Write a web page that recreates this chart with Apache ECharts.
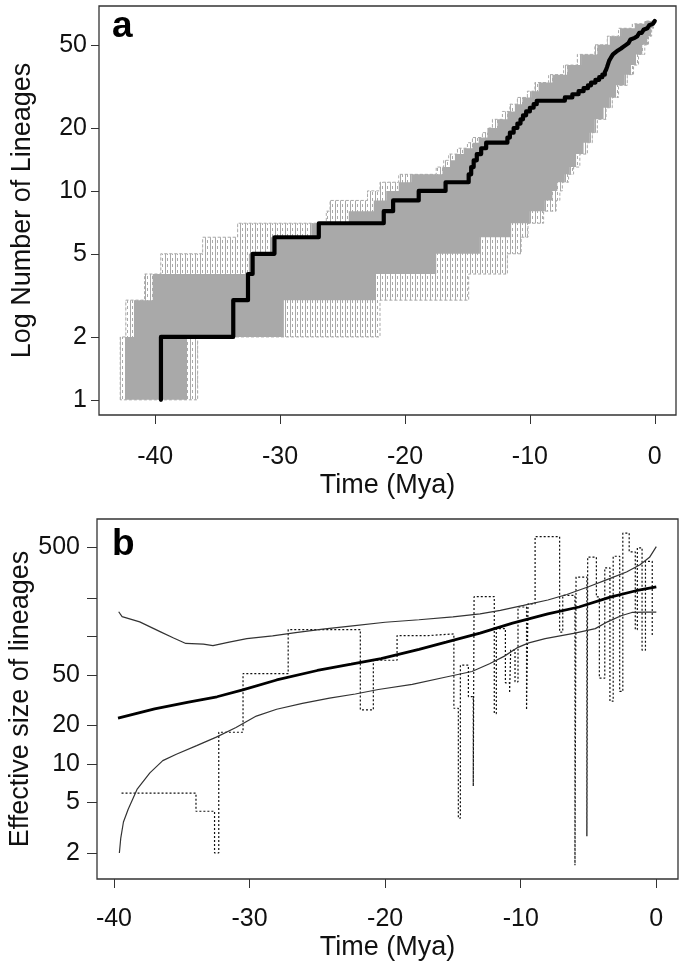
<!DOCTYPE html>
<html><head><meta charset="utf-8">
<script src="https://cdn.jsdelivr.net/npm/echarts@6/dist/echarts.min.js"></script>
<style>html,body{margin:0;padding:0;background:#fff}#c{width:685px;height:968px}</style>
</head><body><div id="c"></div>
<script>
// ---------- Panel a: lineages through time ----------
const ltaXTicks = [-40, -30, -20, -10, 0];
const ltaYTicks = [1, 2, 5, 10, 20, 50];

// observed LTT: time of each branching event and lineage count after it
const obsT = [-39.54, -39.54, -33.75, -32.57, -32.2, -30.45, -26.9, -21.7, -20.95, -18.9,
  -16.75, -14.9, -14.7, -14.5, -14.25, -13.9, -13.5, -11.8, -11.6, -11.3,
  -11.0, -10.75, -10.55, -10.3, -10.0, -9.7, -9.45, -7.2, -6.6, -6.1,
  -5.7, -5.35, -5.1, -4.75, -4.45, -4.2, -4.0, -3.9, -3.83, -3.77,
  -3.71, -3.65, -3.55, -3.45, -3.35, -3.25, -3.15, -2.95, -2.7, -2.5,
  -2.3, -2.1, -1.95, -1.8, -1.6, -1.4, -1.25, -1.05, -0.9, -0.75,
  -0.6, -0.45, -0.3, -0.15, 0];
const obsN = [1, 2, 3, 4, 5, 6, 7, 8, 9, 10,
  11, 12, 13, 14, 15, 16, 17, 18, 19, 20,
  21, 22, 23, 24, 25, 26, 27, 28, 29, 30,
  31, 32, 33, 34, 35, 36, 37, 38, 39, 40,
  41, 42, 43, 44, 45, 46, 47, 48, 49, 50,
  51, 52, 53, 54, 55, 56, 57, 58, 59, 60,
  61, 62, 63, 64, 65];

// simulated-tree envelope (outer, incl. sparse dashed lines): earliest / latest time per lineage level
const envTopN = [1, 2, 3, 4, 5, 6, 7, 8, 9, 10, 11, 12, 13, 14, 15, 16, 17, 18, 19, 20, 22, 24, 26, 28, 30, 33, 36, 40, 45, 50, 55, 60, 63];
const envTopT = [-42.8, -42.35, -40.85, -39.55, -36.2, -33.4, -26.3, -26.0, -23.0, -22.0, -20.5, -17.5, -16.9, -16.5, -15.8, -15.0, -14.6, -13.8, -13.3, -13.0, -12.2, -11.6, -11.0, -10.2, -9.6, -8.5, -7.3, -6.2, -4.8, -3.8, -2.9, -1.8, -0.8];
const envBotN = [1, 2, 3, 4, 5, 6, 7, 8, 9, 10, 11, 12, 13, 15, 17, 19, 22, 25, 28, 32, 36, 40, 45, 50, 55, 60];
const envBotT = [-36.6, -22.0, -14.9, -11.8, -10.7, -10.15, -8.9, -7.9, -7.6, -7.4, -6.9, -6.5, -6.0, -5.4, -5.0, -4.6, -3.9, -3.4, -2.9, -2.2, -1.7, -1.3, -0.8, -0.5, -0.25, -0.1];
// dense core of the simulated trees
const coreTopN = [1, 2, 3, 4, 5, 6, 7, 8, 9, 10, 11, 12, 13, 14, 15, 16, 17, 18, 20, 22, 24, 26, 28, 30, 33, 36, 40, 45, 50, 55, 60, 63];
const coreTopT = [-42.4, -41.7, -40.2, -32.5, -30.8, -27.5, -24.5, -22.5, -21.5, -20.5, -19.5, -17.0, -16.4, -16.0, -15.3, -14.6, -14.1, -13.4, -12.6, -11.8, -11.2, -10.6, -9.9, -9.3, -8.2, -7.0, -5.9, -4.6, -3.6, -2.7, -1.6, -0.7];
const coreBotN = [1, 2, 3, 4, 5, 6, 7, 8, 9, 10, 11, 12, 13, 15, 17, 19, 22, 25, 28, 32, 36, 40, 45, 50, 55, 60];
const coreBotT = [-37.45, -29.7, -22.4, -17.5, -14.0, -11.5, -10.0, -8.8, -8.2, -7.8, -7.2, -6.8, -6.3, -5.7, -5.2, -4.8, -4.1, -3.6, -3.1, -2.4, -1.9, -1.5, -1.0, -0.6, -0.3, -0.15];
const ltaTopN = 65;

// ---------- Panel b: effective size of lineages ----------
const nebXTicks = [-40, -30, -20, -10, 0];
const nebYTicks = [2, 5, 10, 20, 50, 100, 200, 500];
const nebYLabels = [2, 5, 10, 20, 50, 500];

const meanT = [-39.7, -37.0, -34.5, -32.4, -30.5, -28.0, -25.0, -22.5, -20.3, -17.5, -15.5, -13.0, -10.6, -8.0, -5.7, -3.4, -1.5, 0];
const meanV = [22.8, 27, 30.5, 33.6, 38, 45.5, 54, 60.5, 67, 79, 90, 106, 127, 150, 170, 203, 228, 245];

const upperT = [-39.65, -39.4, -38.1, -36.6, -35.6, -34.7, -33.4, -32.7, -31.5, -30.2, -28.3, -26.6, -24.6, -22.4, -20.0, -17.5, -15.0, -13.0, -11.5, -9.8, -8.0, -6.6, -5.0, -3.4, -2.2, -1.2, -0.5, 0];
const upperV = [156, 143, 130, 109, 97, 88, 87, 84.5, 90, 96, 101, 107, 114, 121, 129, 135, 142, 150, 160, 175, 193, 213, 245, 285, 320, 365, 417, 506];

const lowerT = [-39.6, -39.5, -39.3, -38.95, -38.3, -37.35, -36.4, -35.4, -33.9, -32.45, -31.0, -29.5, -28.0, -26.1, -24.1, -22.2, -20.5, -18.0, -15.5, -13.6, -12.3, -11.2, -10.2, -9.4, -8.2, -6.0, -4.5, -3.6, -2.6, -1.8, -0.8, 0];
const lowerV = [2.0, 2.6, 3.5, 4.4, 6.3, 8.5, 10.6, 11.9, 13.9, 16.2, 19.3, 23.7, 26.8, 29.8, 32.8, 35.3, 38.3, 42, 48, 53, 61, 70, 82, 89, 96, 106, 115, 130, 145, 154, 155, 155];

// skyline: start time of each interval and its value
const skyT = [-39.44, -33.95, -32.58, -32.27, -30.48, -27.15, -21.83, -20.87, -19.12, -16.8,
  -14.93, -14.6, -14.45, -13.86, -13.5, -13.44, -11.95, -11.8, -11.13, -10.82,
  -10.74, -10.42, -10.2, -9.57, -9.46, -8.94, -7.13, -6.9, -6.0, -5.92,
  -5.12, -5.06, -4.42, -4.2, -3.8, -3.42, -3.18, -2.7, -2.47, -2.0,
  -1.55, -1.4, -1.05, -0.8, -0.3];
const skyV = [5.9, 4.25, 2.0, 17.7, 51, 113, 26.5, 65, 101.5, 104.5,
  27.3, 3.75, 59.5, 33.7, 6.7, 205, 24.8, 115, 43.2, 36,
  78, 44, 170, 26.5, 180, 605, 108, 210, 1.6, 292,
  2.7, 418, 204, 47, 345, 31, 425, 37, 645, 460,
  113, 495, 78, 388, 102];
const skyEnd = -0.2;

// ---------- build ----------
const FONT = '"Liberation Sans", Arial, Helvetica, sans-serif';
const TXT = '#111';

function stepUpper(levels, times, topN) {
  const pts = [];
  for (let i = 0; i < levels.length; i++) {
    const next = i + 1 < levels.length ? levels[i + 1] : topN;
    pts.push([times[i], levels[i]]);
    pts.push([times[i], next]);
  }
  pts.push([0, topN]);
  return pts;
}
function stepLower(levels, times, topN) {
  const pts = [];
  for (let i = levels.length - 1; i >= 0; i--) {
    const next = i + 1 < levels.length ? levels[i + 1] : topN;
    pts.push([times[i], next]);
    pts.push([times[i], levels[i]]);
  }
  return pts;
}
const outerPoly = stepUpper(envTopN, envTopT, ltaTopN).concat(stepLower(envBotN, envBotT, ltaTopN));
const corePoly = stepUpper(coreTopN, coreTopT, ltaTopN).concat(stepLower(coreBotN, coreBotT, ltaTopN));

function makePattern() {
  const c = document.createElement('canvas');
  c.width = 5; c.height = 6;
  const g = c.getContext('2d');
  g.fillStyle = '#a9a9a9';
  g.fillRect(0, 0, 1, 6);
  g.fillRect(2, 0, 1, 3);
  return c;
}
const pattern = { image: makePattern(), repeat: 'repeat' };

const zip = (a, b) => a.map((v, i) => [v, b[i]]);
const skyData = zip(skyT, skyV).concat([[skyEnd, skyV[skyV.length - 1]]]);

function xAxisCfg(grid, min, max, ticks, margin, gap) {
  return {
    gridIndex: grid, type: 'value', min: min, max: max,
    axisLine: { show: false, onZero: false },
    axisTick: { show: true, inside: false, length: 9, customValues: ticks, lineStyle: { color: '#333', width: 1 } },
    axisLabel: { customValues: ticks, margin: margin, color: TXT, fontFamily: FONT, fontSize: 25 },
    splitLine: { show: false },
    name: 'Time (Mya)', nameLocation: 'middle', nameGap: gap, nameMoveOverlap: false,
    nameTextStyle: { color: TXT, fontFamily: FONT, fontSize: 27 }
  };
}
function yAxisCfg(grid, min, max, ticks, labels, name, tickLen, margin, gap) {
  return {
    gridIndex: grid, type: 'log', logBase: 10, min: min, max: max,
    axisLine: { show: false, onZero: false },
    axisTick: { show: true, inside: false, length: tickLen, customValues: ticks, lineStyle: { color: '#333', width: 1 } },
    axisLabel: { customValues: labels, margin: margin, color: TXT, fontFamily: FONT, fontSize: 25, formatter: v => String(Math.round(v)) },
    minorTick: { show: false },
    splitLine: { show: false },
    name: name, nameLocation: 'middle', nameGap: gap, nameMoveOverlap: false,
    nameTextStyle: { color: TXT, fontFamily: FONT, fontSize: 27 }
  };
}

const chart = echarts.init(document.getElementById('c'), null, { renderer: 'canvas' });
chart.setOption({
  animation: false,
  backgroundColor: '#fff',
  grid: [
    { left: 99, top: 6, width: 577, height: 409, show: true, borderColor: '#333', borderWidth: 1.3, backgroundColor: 'rgba(0,0,0,0)', outerBoundsMode: 'none' },
    { left: 97, top: 519, width: 581, height: 360, show: true, borderColor: '#333', borderWidth: 1.3, backgroundColor: 'rgba(0,0,0,0)', outerBoundsMode: 'none' }
  ],
  xAxis: [
    xAxisCfg(0, -44.5, 1.7, ltaXTicks, 30, 57),
    xAxisCfg(1, -41.25, 1.6, nebXTicks, 28, 55)
  ],
  yAxis: [
    yAxisCfg(0, 0.846, 76.7, ltaYTicks, ltaYTicks, 'Log Number of Lineages', 8, 12, 63),
    yAxisCfg(1, 1.25, 833, nebYTicks, nebYLabels, 'Effective size of lineages', 10, 17, 63)
  ],
  graphic: [
    { type: 'text', left: 112, top: 8, style: { text: 'a', font: 'bold 37px ' + FONT, fill: '#000' } },
    { type: 'text', left: 112, top: 526, style: { text: 'b', font: 'bold 37px ' + FONT, fill: '#000' } }
  ],
  series: [
    {
      name: 'simulated trees (spread)', type: 'custom', xAxisIndex: 0, yAxisIndex: 0, silent: true, clip: true, z: 1,
      data: [[-20, 5]],
      renderItem: function (params, api) {
        return { type: 'polygon', shape: { points: outerPoly.map(p => api.coord(p)) },
          style: { fill: pattern, stroke: '#a9a9a9', lineWidth: 1, lineDash: [3, 2] } };
      }
    },
    {
      name: 'simulated trees (core)', type: 'custom', xAxisIndex: 0, yAxisIndex: 0, silent: true, clip: true, z: 2,
      data: [[-20, 5]],
      renderItem: function (params, api) {
        return { type: 'polygon', shape: { points: corePoly.map(p => api.coord(p)) },
          style: { fill: '#a9a9a9', stroke: null } };
      }
    },
    {
      name: 'observed', type: 'line', xAxisIndex: 0, yAxisIndex: 0, step: 'end', symbol: 'none', z: 5,
      data: zip(obsT, obsN),
      lineStyle: { color: '#000', width: 4.2, cap: 'round', join: 'round' }
    },
    {
      name: 'skyline', type: 'line', xAxisIndex: 1, yAxisIndex: 1, step: 'end', symbol: 'none', z: 3,
      data: skyData,
      lineStyle: { color: '#111', width: 1.2, type: [2, 2] }
    },
    {
      name: 'upper', type: 'line', xAxisIndex: 1, yAxisIndex: 1, symbol: 'none', z: 4,
      data: zip(upperT, upperV), lineStyle: { color: '#333', width: 1.2 }
    },
    {
      name: 'lower', type: 'line', xAxisIndex: 1, yAxisIndex: 1, symbol: 'none', z: 4,
      data: zip(lowerT, lowerV), lineStyle: { color: '#333', width: 1.2 }
    },
    {
      name: 'mean', type: 'line', xAxisIndex: 1, yAxisIndex: 1, symbol: 'none', z: 5,
      data: zip(meanT, meanV), lineStyle: { color: '#000', width: 2.8 }
    }
  ]
});
</script></body></html>
